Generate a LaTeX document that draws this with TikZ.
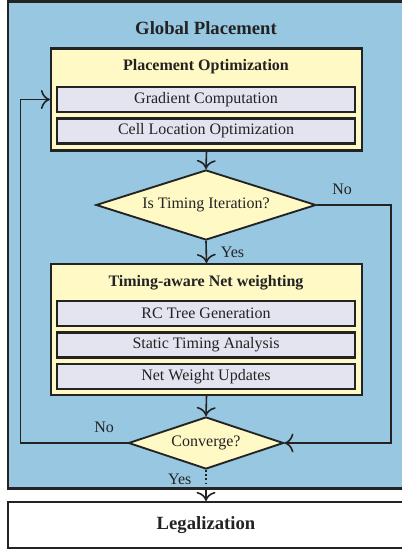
\documentclass[tikz,border=0pt]{standalone}
\usepackage{fontspec}
\setmainfont{Liberation Serif}
\usepackage{xcolor}
\usepackage{tikz}
\usetikzlibrary{arrows.meta,positioning,shapes.geometric,calc}
\definecolor{gpblue}{RGB}{151,199,225}
\definecolor{gpyellow}{RGB}{255,249,197}
\definecolor{gplav}{RGB}{228,228,241}
\definecolor{gpline}{RGB}{35,35,35}
\tikzset{
  container/.style={draw=gpline,line width=1.6pt,fill=gpblue},
  stage/.style    ={draw=gpline,line width=1.6pt,fill=gpyellow,minimum width=233.25pt,inner sep=0pt},
  substep/.style  ={draw=gpline,line width=1.8pt,fill=gplav,minimum width=223.5pt,minimum height=18.75pt,inner sep=0pt},
  decision/.style ={draw=gpline,line width=1.4pt,diamond,fill=gpyellow,inner sep=0pt,shape aspect=3},
  final/.style    ={draw=gpline,line width=1.6pt,fill=white,minimum width=297pt,minimum height=34.5pt,
                    font=\fontsize{14}{16}\selectfont\bfseries},
  title/.style    ={font=\fontsize{14}{16}\selectfont\bfseries},
  head/.style     ={font=\fontsize{12}{14}\selectfont\bfseries},
  arrow/.style    ={-{To[scale=1.6]},line width=1.2pt,draw=gpline}
}

\begin{document}
\begin{tikzpicture}[x=0.75pt,y=-0.75pt, every node/.style={font=\fontsize{12}{14}\selectfont,text=gpline}]
    \useasboundingbox (0,0) rectangle (401,550);
    % global placement frame
    \path[container] (8,1.5) rectangle (406,488.5);
    \node[title] (gptitle) at (206,28) {Global Placement};

    % placement optimization
    \node[stage,minimum height=76.5pt] (popt) at (206.5,99.5) {};
    \node[head] (popttitle) at (206,67) {Placement Optimization};
    \node[substep] (grad) at (206,99.5) {Gradient Computation};
    \node[substep,below=3pt of grad] (cell) {Cell Location Optimization};

    \node[decision,minimum width=165pt,minimum height=52.5pt] (iter) at (206,205) {Is Timing Iteration?};

    % timing-aware net weighting
    \node[stage,minimum height=98.25pt] (tnw) at (206.5,329.5) {};
    \node[head] (tnwtitle) at (206,283) {Timing-aware Net weighting};
    \node[substep] (rc) at (206,313.5) {RC Tree Generation};
    \node[substep,below=3pt of rc] (sta) {Static Timing Analysis};
    \node[substep,below=3pt of sta] (nwu) {Net Weight Updates};

    \node[decision,minimum width=116.25pt,minimum height=39pt] (conv) at (206,443) {Converge?};

    \node[final] (legal) at (206,525) {Legalization};
    \coordinate (gpbottom) at (206,488.5);

    \draw[arrow] (popt.south) -- (iter.north);
    \draw[arrow] (iter.south) -- node[right=7pt] {Yes} (tnw.north);
    \draw[arrow] (tnw.south) -- (conv.north);
    \draw[arrow] (iter.east) -- node[pos=.34,above=4pt] {No} ++(74,0) |- (conv.east);
    \draw[arrow] (conv.west) -- node[pos=.22,above=4pt] {No} ++(-107,0) |- (popt.west |- grad);
    \draw[line width=1.2pt,draw=gpline,dotted] (conv.south) -- node[left=7pt] {Yes} (gpbottom);
    \draw[arrow] (gpbottom) -- (legal.north);
\end{tikzpicture}
\end{document}
